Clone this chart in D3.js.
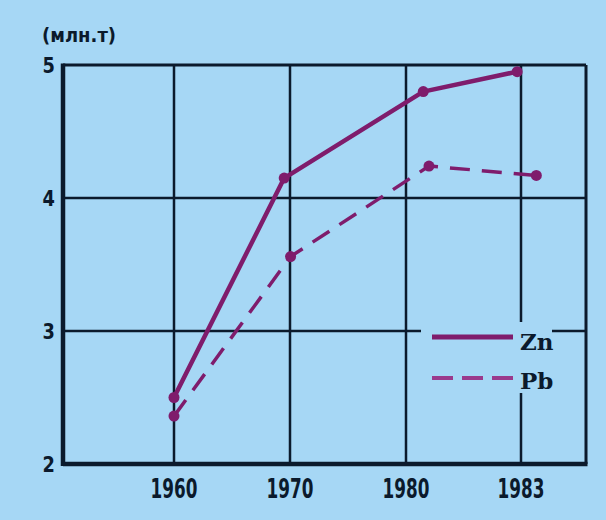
<!DOCTYPE html>
<html><head><meta charset="utf-8">
<script src="https://cdn.jsdelivr.net/npm/d3@7"></script>
<style>html,body{margin:0;padding:0;background:#a6d7f5;}svg{display:block;}</style>
</head><body>
<svg id="chart" width="606" height="520"></svg>
<script>
const categories = [1960, 1970, 1980, 1983];
const yTicks = [2, 3, 4, 5];
const unitLabel = "(млн.т)";
const znYears = [1960, 1969.5, 1980.45, 1982.9];
const znValues = [2.5, 4.15, 4.8, 4.95];
const pbYears = [1960, 1970.05, 1980.6, 1983.4];
const pbValues = [2.36, 3.56, 4.24, 4.17];
const seriesNames = ["Zn", "Pb"];

const W = 606, H = 520;
const pLeft = 63, pRight = 586, pTop = 65, pBottom = 464;
const ink = "#0b1a2c", purple = "#7f1c6c", bg = "#a6d7f5";
const svg = d3.select("#chart");
svg.append("rect").attr("width", W).attr("height", H).attr("fill", bg);

const x = d3.scaleLinear().domain(categories).range([174, 290, 406, 521]);
const y = d3.scaleLinear().domain([2, 5]).range([pBottom, pTop]);

// grid
const g = svg.append("g");
g.selectAll("line.v").data(categories).join("line")
  .attr("x1", d => x(d)).attr("x2", d => x(d)).attr("y1", pTop).attr("y2", pBottom)
  .attr("stroke", ink).attr("stroke-width", 2.5);
g.selectAll("line.h").data(yTicks.slice(1, 3)).join("line")
  .attr("x1", pLeft).attr("x2", pRight).attr("y1", d => y(d)).attr("y2", d => y(d))
  .attr("stroke", ink).attr("stroke-width", 2.5);
// frame
g.append("line").attr("x1", pLeft).attr("x2", pRight).attr("y1", pTop).attr("y2", pTop).attr("stroke", ink).attr("stroke-width", 3);
g.append("line").attr("x1", pRight).attr("x2", pRight).attr("y1", pTop).attr("y2", pBottom).attr("stroke", ink).attr("stroke-width", 3);
g.append("line").attr("x1", pLeft).attr("x2", pRight + 1.5).attr("y1", pBottom).attr("y2", pBottom).attr("stroke", ink).attr("stroke-width", 4.5);
g.append("line").attr("x1", pLeft).attr("x2", pLeft).attr("y1", pTop - 1.5).attr("y2", pBottom + 2).attr("stroke", ink).attr("stroke-width", 4.5);

// axes labels
svg.append("g").selectAll("text").data(yTicks).join("text")
  .attr("x", 55).attr("y", d => y(d) + 8).attr("text-anchor", "end")
  .attr("font-family", "'DejaVu Sans Condensed', sans-serif")
  .attr("font-weight", "bold").attr("font-size", 22).attr("fill", ink)
  .attr("transform", d => `translate(55,${y(d)}) scale(0.9,1) translate(-55,${-y(d)})`)
  .text(d => d);
svg.append("g").selectAll("text").data(categories).join("text")
  .attr("x", d => x(d)).attr("y", 498).attr("text-anchor", "middle")
  .attr("font-family", "'DejaVu Sans Condensed', sans-serif")
  .attr("font-weight", "bold").attr("font-size", 26).attr("fill", ink)
  .attr("transform", d => `translate(${x(d)},498) scale(0.72,1) translate(${-x(d)},-498)`)
  .text(d => d);
svg.append("text").attr("x", 42).attr("y", 42)
  .attr("font-family", "'DejaVu Sans Condensed', sans-serif")
  .attr("font-weight", "bold").attr("font-size", 20).attr("fill", ink).text(unitLabel);

// legend background box (breaks grid)
svg.append("rect").attr("x", 421).attr("y", 322).attr("width", 131).attr("height", 71).attr("fill", bg);

// lines
const line = d3.line().x(d => x(d[0])).y(d => y(d[1]));
const zn = znYears.map((d, i) => [d, znValues[i]]);
const pb = pbYears.map((d, i) => [d, pbValues[i]]);
svg.append("path").attr("d", line(pb)).attr("fill", "none").attr("stroke", purple)
  .attr("stroke-width", 3.5).attr("stroke-dasharray", "20 12");
svg.append("path").attr("d", line(zn)).attr("fill", "none").attr("stroke", purple)
  .attr("stroke-width", 4.5).attr("stroke-linejoin", "round");
svg.append("g").selectAll("circle").data(zn.concat(pb)).join("circle")
  .attr("cx", d => x(d[0])).attr("cy", d => y(d[1])).attr("r", 5.5).attr("fill", purple);

// legend
const lg = svg.append("g");
lg.append("line").attr("x1", 432).attr("x2", 513).attr("y1", 337).attr("y2", 337)
  .attr("stroke", purple).attr("stroke-width", 5);
lg.append("line").attr("x1", 432).attr("x2", 513).attr("y1", 378).attr("y2", 378)
  .attr("stroke", "#9a3a8c").attr("stroke-width", 4).attr("stroke-dasharray", "21 9");
lg.selectAll("text").data(seriesNames).join("text")
  .attr("x", 520).attr("y", (d, i) => 350 + i * 39)
  .attr("font-family", "'DejaVu Serif', 'Liberation Serif', serif")
  .attr("font-weight", "bold").attr("font-size", 23).attr("fill", ink).text(d => d);
</script>
</body></html>
